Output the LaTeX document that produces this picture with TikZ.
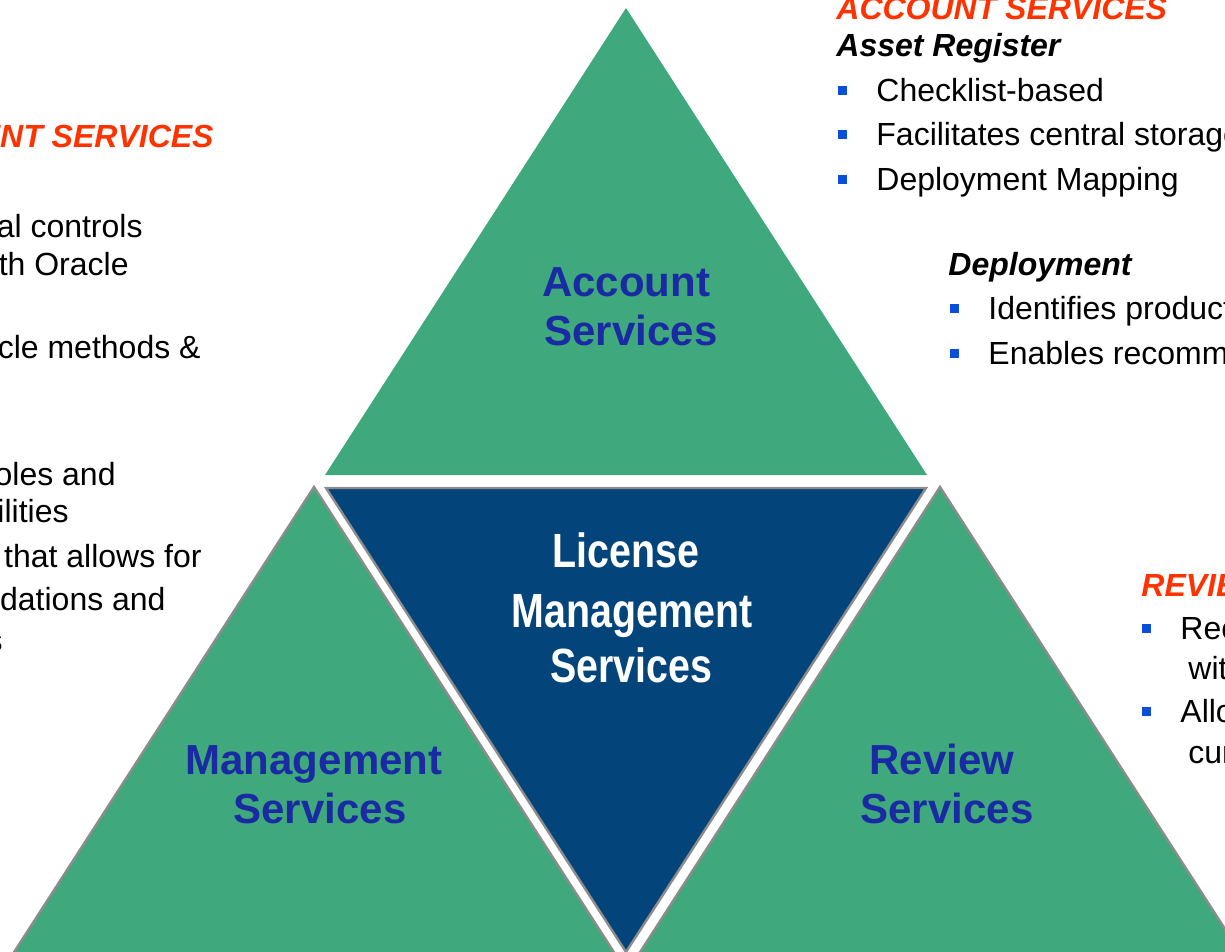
\documentclass[tikz,border=0pt]{standalone}
\usepackage{fontspec}
\setmainfont{Liberation Sans}
\newfontfamily\narrowfont[FakeStretch=0.82]{Liberation Sans}
\definecolor{tgreen}{HTML}{3FA87D}
\definecolor{tnavy}{HTML}{03457A}
\definecolor{tblue}{HTML}{1A2AA3}
\definecolor{tred}{HTML}{FF3300}
\definecolor{bullblue}{HTML}{0A4FD8}
\definecolor{edgegray}{HTML}{8C8C8C}
\tikzset{
  greentri/.style={fill=tgreen},
  greentriedge/.style={fill=tgreen, draw=edgegray, line width=1.2pt, line join=miter},
  navytri/.style={fill=tnavy, draw=edgegray, line width=1.2pt, line join=miter},
  tlabel/.style={font=\fontsize{21}{25}\selectfont\bfseries, text=tblue, anchor=base, inner sep=0pt},
  clabel/.style={font=\narrowfont\fontsize{24}{28}\selectfont\bfseries, text=white, anchor=base, inner sep=0pt},
  redhead/.style={font=\fontsize{16}{19}\selectfont\bfseries\itshape, text=tred, anchor=base west, inner sep=0pt},
  subhead/.style={font=\fontsize{16}{19}\selectfont\bfseries\itshape, text=black, anchor=base west, inner sep=0pt},
  body/.style={font=\fontsize{16}{19}\selectfont, text=black, anchor=base west, inner sep=0pt},
  bodyr/.style={font=\fontsize{16}{19}\selectfont, text=black, anchor=base east, inner sep=0pt},
  bullet/.style={rectangle, fill=bullblue, minimum size=4.5pt, inner sep=0pt, draw=none}
}
\begin{document}
\begin{tikzpicture}[x=0.5pt,y=-0.5pt]
\useasboundingbox (0,0) rectangle (1225,952);
\clip (0,0) rectangle (1225,952);
% triangles
\coordinate (topA) at (626,8);
\coordinate (topL) at (325,475);
\coordinate (topR) at (927,475);
\fill[greentri] (topA) -- (topL) -- (topR) -- cycle;
\coordinate (blA) at (314,487);
\coordinate (blL) at (9,960);
\coordinate (blR) at (619,960);
\filldraw[greentriedge] (blA) -- (blL) -- (blR) -- cycle;
\coordinate (brA) at (940,487);
\coordinate (brL) at (635,960);
\coordinate (brR) at (1245,960);
\filldraw[greentriedge] (brA) -- (brL) -- (brR) -- cycle;
\coordinate (ctL) at (326,488);
\coordinate (ctR) at (926,488);
\coordinate (ctB) at (626,952);
\filldraw[navytri] (ctL) -- (ctR) -- (ctB) -- cycle;
% triangle labels
\node[tlabel] (acc1) at (626,296) {Account};
\node[tlabel] (acc2) at (631,345) {Services};
\node[tlabel] (man1) at (314,774) {Management};
\node[tlabel] (man2) at (320,823) {Services};
\node[tlabel] (rev1) at (942,774) {Review};
\node[tlabel] (rev2) at (947,823) {Services};
\node[clabel] (lic1) at (626,567) {License};
\node[clabel] (lic2) at (632,627) {Management};
\node[clabel] (lic3) at (631,682) {Services};
% right top text
\node[redhead] (ash) at (836,20) {ACCOUNT SERVICES};
\node[subhead] (ar) at (836,57) {Asset Register};
\node[bullet] (b1) at (842,91) {};
\node[body] (t1) at (876,102) {Checklist-based};
\node[bullet] (b2) at (842,135) {};
\node[body] (t2) at (876,146) {Facilitates central storage};
\node[bullet] (b3) at (842,180) {};
\node[body] (t3) at (876,191) {Deployment Mapping};
\node[subhead] (dep) at (948,276) {Deployment};
\node[bullet] (b4) at (954,308) {};
\node[body] (t4) at (988,319) {Identifies product};
\node[bullet] (b5) at (954,353) {};
\node[body] (t5) at (988,364) {Enables recomm};
% right bottom text
\node[redhead] (rsh) at (1141,596) {REVIEW};
\node[bullet] (b6) at (1146,628) {};
\node[body] (t6) at (1180,639) {Rec};
\node[body] (t7) at (1188,679) {wit};
\node[bullet] (b7) at (1146,711) {};
\node[body] (t8) at (1180,722) {Allo};
\node[body] (t9) at (1188,763) {cur};
% left text (fragments)
\node[redhead, anchor=base east] (msh) at (214,148) {ENT SERVICES};
\node[bodyr] (l1) at (143,237) {al controls};
\node[bodyr] (l2) at (129,276) {th Oracle};
\node[bodyr] (l3) at (201,358) {cle methods \&};
\node[bodyr] (l4) at (116,485) {oles and};
\node[bodyr] (l5) at (69,522) {ilities};
\node[bodyr] (l6) at (202,567) {that allows for};
\node[bodyr] (l7) at (166,610) {dations and};
\node[bodyr] (l8) at (3,651) {s};
\end{tikzpicture}
\end{document}
